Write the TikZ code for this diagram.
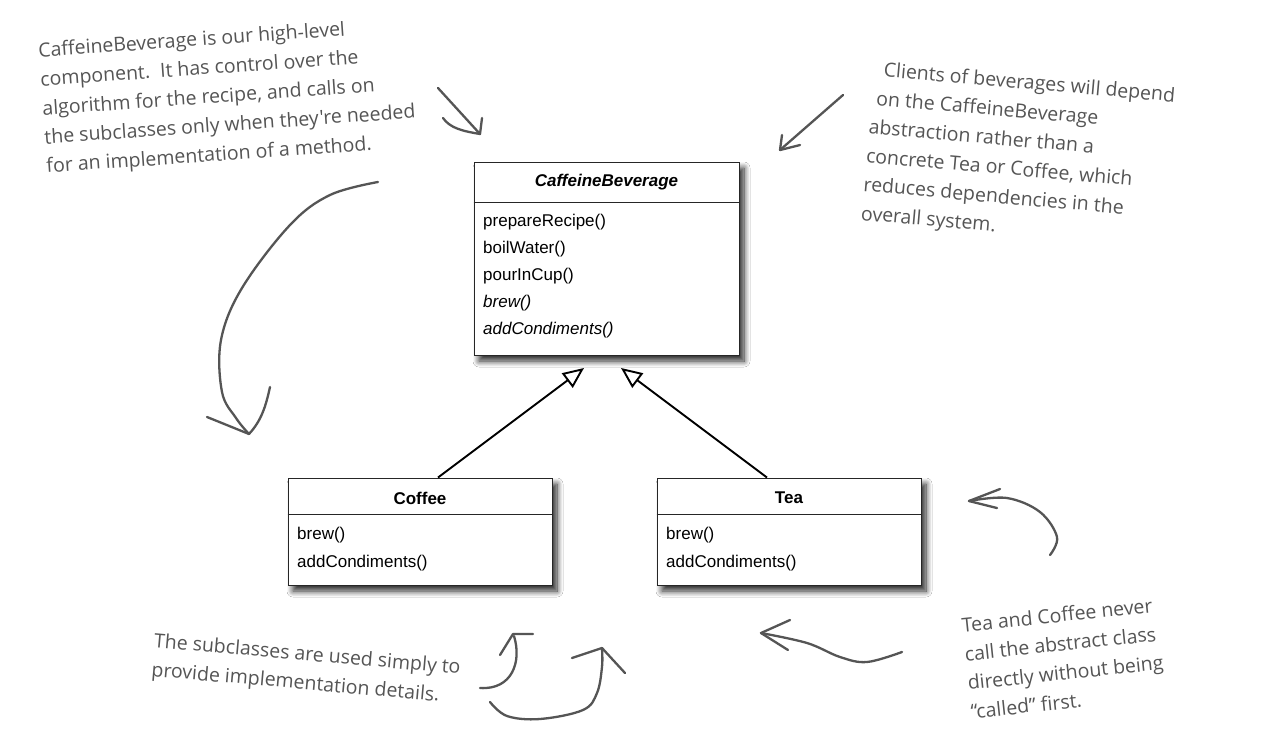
\documentclass[tikz,border=0pt]{standalone}
\usepackage{fontspec}
\setmainfont{Liberation Sans}
\newfontfamily\notefont{Open Sans}
\usetikzlibrary{arrows.meta,shadows.blur,calc}
\definecolor{ink}{RGB}{85,85,85}
\begin{document}
\begin{tikzpicture}[x=1pt,y=-1pt,
  umlbox/.style={draw=black!85,line width=1pt,fill=white,inner sep=0pt,
    blur shadow={shadow xshift=5pt,shadow yshift=-6pt,shadow blur radius=6pt,shadow blur steps=10,shadow opacity=85}},
  umlrule/.style={draw=black!85,line width=1pt},
  classname/.style={font=\fontsize{17}{20}\selectfont\bfseries,inner sep=0pt},
  member/.style={font=\fontsize{17}{20}\selectfont,anchor=west,inner sep=0pt},
  inherit/.style={draw=black,line width=1.9pt,-{Triangle[open,length=21pt,width=18pt]}},
  note/.style={font=\notefont\fontsize{19.5}{29}\selectfont,text=ink,align=left,inner sep=0pt},
  hand/.style={draw=ink,line width=2.3pt,line cap=round,line join=round},
]
\fill[white] (0,0) rectangle (1277,750);
\useasboundingbox (0,0) rectangle (1277,750);

% abstract class
\node[umlbox,minimum width=265pt,minimum height=193pt] (cb) at (606.5,258.5) {};
\draw[umlrule] (cb.west |- 0,202) -- (cb.east |- 0,202);
\node[classname] (cbname) at (606.5,182) {\itshape CaffeineBeverage};
\node[member] (cb1) at (483,222) {prepareRecipe()};
\node[member] (cb2) at (483,249) {boilWater()};
\node[member] (cb3) at (483,276) {pourInCup()};
\node[member] (cb4) at (483,303) {\itshape brew()};
\node[member] (cb5) at (483,330) {\itshape addCondiments()};

% concrete classes
\node[umlbox,minimum width=264pt,minimum height=107pt] (coffee) at (420,531.5) {};
\draw[umlrule] (coffee.west |- 0,514) -- (coffee.east |- 0,514);
\node[classname] (coffeename) at (420,498) {Coffee};
\node[member] (co1) at (297,535) {brew()};
\node[member] (co2) at (297,563) {addCondiments()};

\node[umlbox,minimum width=264pt,minimum height=107pt] (tea) at (789,531.5) {};
\draw[umlrule] (tea.west |- 0,514) -- (tea.east |- 0,514);
\node[classname] (teaname) at (789,498) {Tea};
\node[member] (te1) at (666,535) {brew()};
\node[member] (te2) at (666,563) {addCondiments()};

% generalisation arrows
\coordinate (tipL) at (584,368);
\coordinate (tipR) at (621,368);
\draw[inherit] ($(coffee.north)+(18,0)$) -- (tipL);
\draw[inherit] ($(tea.north)+(-22,0)$) -- (tipR);

% notes
\node[note,rotate=4] (noteA) at (228,97) {CaffeineBeverage is our high-level\\
component.\ \ It has control over the\\
algorithm for the recipe, and calls on\\
the subclasses only when they're needed\\
for an implementation of a method.};

\node[note,rotate=-5] (noteB) at (1018,156) {\ \ Clients of beverages will depend\\
\ on the CaffeineBeverage\\
abstraction rather than a\\
concrete Tea or Coffee, which\\
reduces dependencies in the\\
overall system.};

\node[note,rotate=-5] (noteC) at (306,670) {The subclasses are used simply to\\
provide implementation details.};

\node[note,rotate=6] (noteD) at (1064,658) {Tea and Coffee never\\
call the abstract class\\
directly without being\\
“called” first.};

% hand-drawn pointers
\draw[hand] (438,88) -- (480,134);
\draw[hand] (443,118) .. controls (450,128) and (462,131) .. (480,134) -- (482,118);

\draw[hand] plot[smooth,tension=0.6] coordinates {(378,182) (330,195) (290,225) (242,288) (221,340) (222,392) (236,418) (249,434)};
\draw[hand] (207,417) -- (249,434) .. controls (262,420) and (266,405) .. (270,387);

\draw[hand] (843,95) -- (780,150);
\draw[hand] (782,135) -- (780,150) -- (800,145);

\draw[hand] (480,688) .. controls (512,690) and (522,662) .. (514,636);
\draw[hand] (500,655) -- (513,634) -- (533,634);

\draw[hand] plot[smooth,tension=0.6] coordinates {(490,702) (507,716) (540,719) (583,710) (597,693) (602,667) (602,649)};
\draw[hand] (572,658) -- (602,648) -- (625,673);

\draw[hand] plot[smooth,tension=0.6] coordinates {(1050,555) (1057,537) (1040,512) (1007,498) (969,501)};
\draw[hand] (1000,489) -- (969,501) -- (997,508);

\draw[hand] plot[smooth,tension=0.6] coordinates {(902,652) (867,662) (840,657) (807,643) (761,633)};
\draw[hand] (790,620) -- (761,633) -- (788,650);
\end{tikzpicture}
\end{document}
